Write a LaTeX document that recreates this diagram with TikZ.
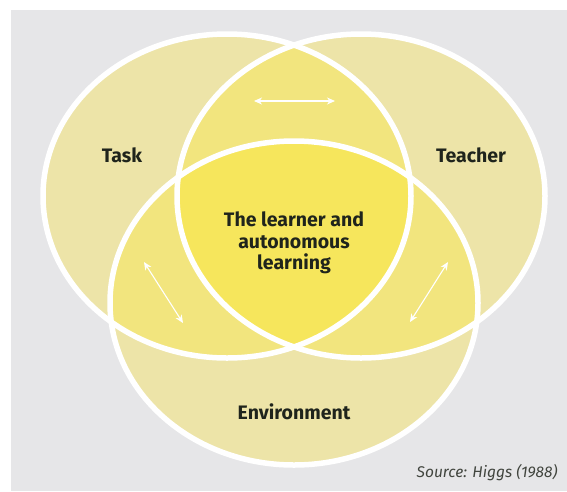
\documentclass[tikz,border=0pt]{standalone}
\usepackage{fontspec}
\setmainfont{Fira Sans}
\usetikzlibrary{arrows.meta}
\definecolor{sfondo}{HTML}{E6E6E8}
\definecolor{giallouno}{HTML}{EDE4A8}
\definecolor{giallodue}{HTML}{F2E57E}
\definecolor{giallotre}{HTML}{F6E65C}
\definecolor{testo}{HTML}{1F241C}
\begin{document}
\begin{tikzpicture}[x=1pt,y=-1pt,
    etichetta/.style={font=\bfseries\fontsize{19.5}{21.5}\selectfont,text=testo},
    fonte/.style={font=\itshape\fontsize{15.5}{17}\selectfont,text=testo!85},
    bordo/.style={draw=white,line width=5.5pt},
    freccia/.style={draw=white,line width=1.1pt,
        {Stealth[length=8pt,width=7pt,inset=2.5pt]}-{Stealth[length=8pt,width=7pt,inset=2.5pt]}}]
    \useasboundingbox (0,0) rectangle (567,491);
    \fill[white] (0,0) rectangle (567,491);
    \fill[sfondo] (11,10) rectangle (567,491);
    % i tre insiemi
    \path[save path=\insTask] (227,196) ellipse [x radius=184, y radius=162];
    \path[save path=\insTeacher] (361,196) ellipse [x radius=184, y radius=162];
    \path[save path=\insEnv] (294,303) ellipse [x radius=184, y radius=162];
    \fill[giallouno, use path=\insTask];
    \fill[giallouno, use path=\insTeacher];
    \fill[giallouno, use path=\insEnv];
    % intersezioni a due
    \begin{scope}
        \clip[use path=\insTask];
        \fill[giallodue, use path=\insTeacher];
        \fill[giallodue, use path=\insEnv];
    \end{scope}
    \begin{scope}
        \clip[use path=\insTeacher];
        \fill[giallodue, use path=\insEnv];
    \end{scope}
    % centro
    \begin{scope}
        \clip[use path=\insTask];
        \clip[use path=\insTeacher];
        \fill[giallotre, use path=\insEnv];
    \end{scope}
    \draw[bordo, use path=\insTask];
    \draw[bordo, use path=\insTeacher];
    \draw[bordo, use path=\insEnv];
    % etichette
    \node[etichetta] (task) at (122,155) {Task};
    \node[etichetta] (teacher) at (471,155) {Teacher};
    \node[etichetta] (environment) at (294,412) {Environment};
    \node[etichetta, align=center] (learner) at (294,243) {The learner and\\autonomous\\learning};
    \node[fonte, anchor=east] (source) at (561,473) {Source: Higgs (1988)};
    % frecce
    \coordinate (sopraA) at (254,101);
    \coordinate (sopraB) at (335,101);
    \coordinate (sinA) at (144,262);
    \coordinate (sinB) at (183,323);
    \coordinate (desA) at (448,262);
    \coordinate (desB) at (410,322);
    \draw[freccia] (sopraA) -- (sopraB);
    \draw[freccia] (sinA) -- (sinB);
    \draw[freccia] (desA) -- (desB);
\end{tikzpicture}
\end{document}
